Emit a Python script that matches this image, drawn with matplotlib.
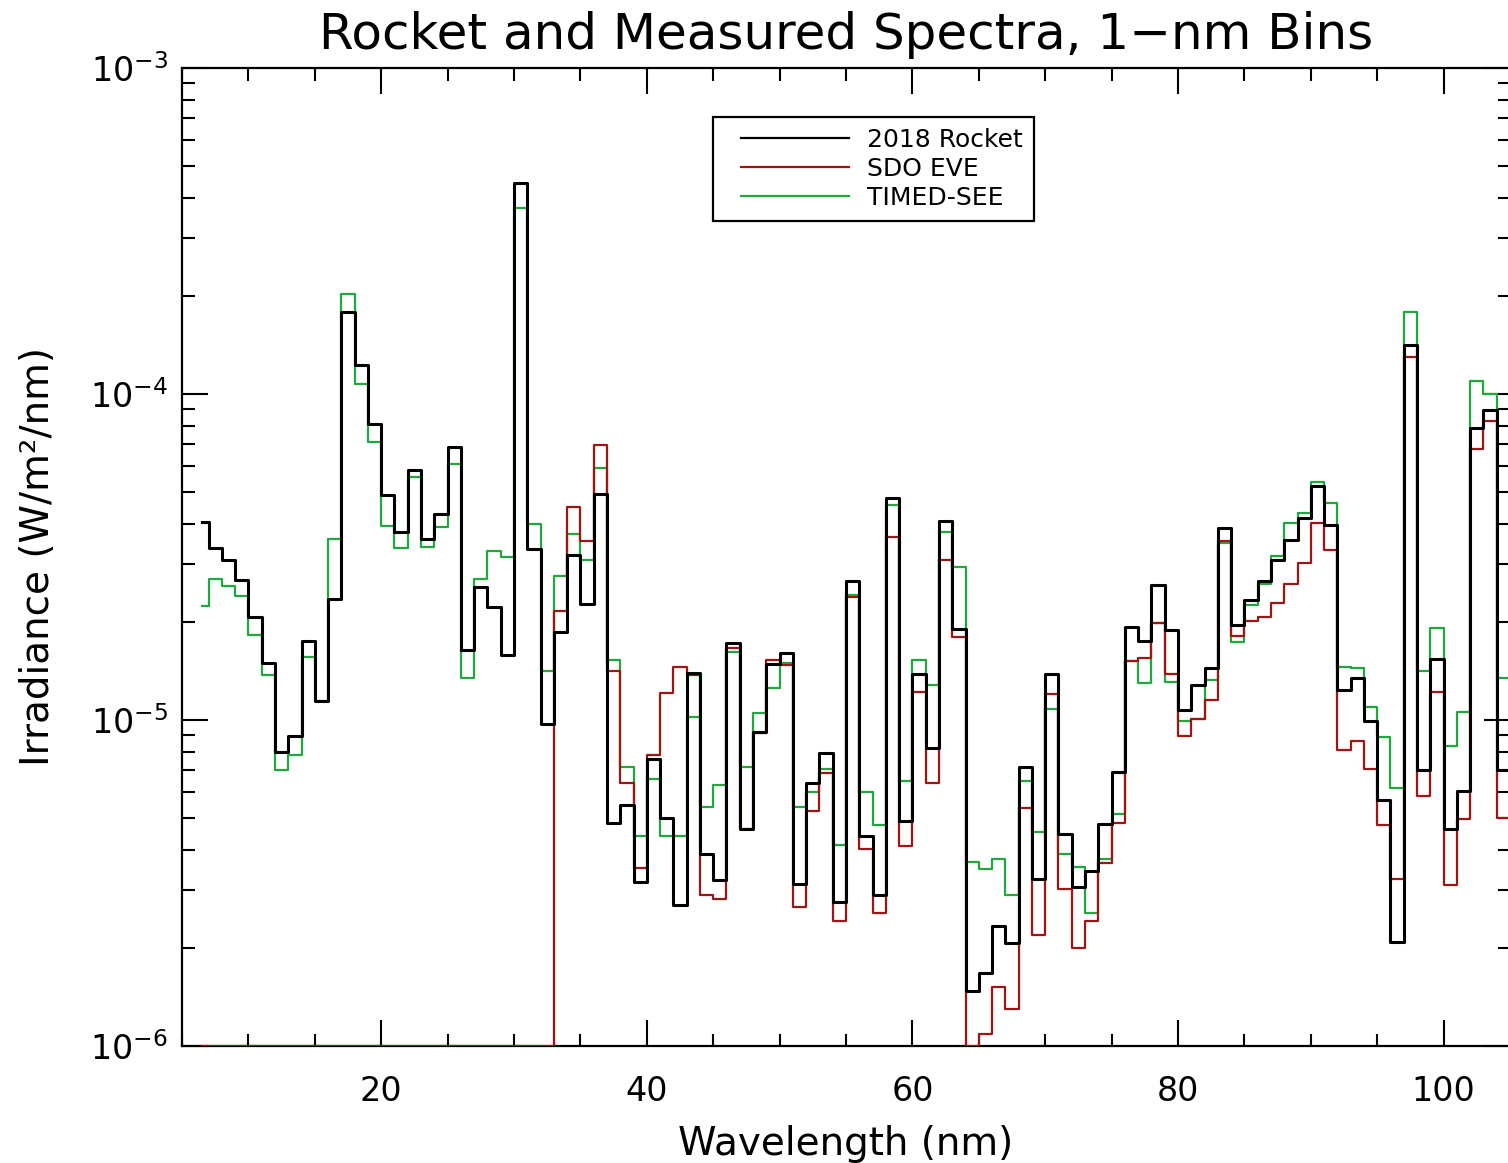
import numpy as np
import matplotlib
matplotlib.use('Agg')
import matplotlib.pyplot as plt
from matplotlib.ticker import MultipleLocator, LogLocator, NullFormatter
from matplotlib.legend_handler import HandlerLine2D
from matplotlib.lines import Line2D

# bin centres (nm), 1-nm bins
wave = np.arange(6.5, 105.6, 1.0)

rocket = [4.05e-5, 3.37e-5, 3.10e-5, 2.69e-5, 2.07e-5, 1.50e-5, 8.0e-6, 8.9e-6, 1.75e-5, 1.14e-5,
          2.35e-5, 1.79e-4, 1.23e-4, 8.1e-5, 4.9e-5, 3.77e-5, 5.85e-5, 3.6e-5, 4.28e-5, 6.9e-5,
          1.64e-5, 2.55e-5, 2.22e-5, 1.58e-5, 4.44e-4, 3.35e-5, 9.7e-6, 1.86e-5, 3.21e-5, 2.27e-5,
          4.93e-5, 4.83e-6, 5.5e-6, 3.18e-6, 7.6e-6, 5.0e-6, 2.7e-6, 1.39e-5, 3.88e-6, 3.23e-6,
          1.72e-5, 4.64e-6, 9.2e-6, 1.49e-5, 1.61e-5, 3.15e-6, 6.4e-6, 7.9e-6, 2.77e-6, 2.67e-5,
          4.42e-6, 2.91e-6, 4.81e-5, 4.9e-6, 1.38e-5, 8.2e-6, 4.07e-5, 1.9e-5, 1.47e-6, 1.67e-6,
          2.33e-6, 2.07e-6, 7.16e-6, 3.25e-6, 1.38e-5, 4.48e-6, 3.08e-6, 3.45e-6, 4.8e-6, 6.94e-6,
          1.93e-5, 1.75e-5, 2.59e-5, 1.89e-5, 1.07e-5, 1.28e-5, 1.44e-5, 3.88e-5, 1.96e-5, 2.34e-5,
          2.66e-5, 3.09e-5, 3.56e-5, 4.16e-5, 5.23e-5, 3.96e-5, 1.24e-5, 1.35e-5, 9.9e-6, 5.7e-6,
          2.09e-6, 1.41e-4, 7.0e-6, 1.54e-5, 4.63e-6, 6.07e-6, 7.84e-5, 8.9e-5, 7.0e-6, 7.0e-6]

eve = [0, 0, 0, 0, 0, 0, 0, 0, 0, 0,
       0, 0, 0, 0, 0, 0, 0, 0, 0, 0,
       0, 0, 0, 0, 0, 0, 0, 2.16e-5, 4.5e-5, 3.55e-5,
       6.98e-5, 1.41e-5, 6.4e-6, 3.52e-6, 7.8e-6, 1.21e-5, 1.45e-5, 1.37e-5, 2.9e-6, 2.82e-6,
       1.66e-5, 4.64e-6, 9.1e-6, 1.53e-5, 1.47e-5, 2.66e-6, 5.24e-6, 6.9e-6, 2.42e-6, 2.38e-5,
       4.01e-6, 2.56e-6, 3.64e-5, 4.1e-6, 1.22e-5, 6.4e-6, 3.09e-5, 1.8e-5, 0, 1.09e-6,
       1.52e-6, 1.3e-6, 5.38e-6, 2.19e-6, 1.2e-5, 3.03e-6, 2.0e-6, 2.42e-6, 3.64e-6, 4.84e-6,
       1.52e-5, 1.55e-5, 1.99e-5, 1.38e-5, 8.9e-6, 1.01e-5, 1.15e-5, 3.53e-5, 1.81e-5, 2.01e-5,
       2.07e-5, 2.28e-5, 2.62e-5, 3.03e-5, 4.03e-5, 3.32e-5, 8.1e-6, 8.6e-6, 7.05e-6, 4.78e-6,
       3.25e-6, 1.3e-4, 5.86e-6, 1.22e-5, 3.11e-6, 4.97e-6, 6.76e-5, 8.26e-5, 5.0e-6, 5.0e-6]

see = [2.23e-5, 2.7e-5, 2.58e-5, 2.4e-5, 1.82e-5, 1.37e-5, 7.0e-6, 7.8e-6, 1.56e-5, 1.14e-5,
       3.59e-5, 2.03e-4, 1.07e-4, 7.1e-5, 3.94e-5, 3.37e-5, 5.57e-5, 3.39e-5, 3.91e-5, 6.1e-5,
       1.35e-5, 2.7e-5, 3.3e-5, 3.17e-5, 3.72e-4, 4.0e-5, 1.41e-5, 2.77e-5, 3.73e-5, 3.1e-5,
       5.91e-5, 1.53e-5, 7.2e-6, 4.4e-6, 6.6e-6, 4.4e-6, 4.4e-6, 1.02e-5, 5.4e-6, 6.3e-6,
       1.62e-5, 7.2e-6, 1.05e-5, 1.25e-5, 1.5e-5, 5.4e-6, 6.0e-6, 7.05e-6, 4.13e-6, 2.42e-5,
       6.0e-6, 4.77e-6, 4.58e-5, 6.5e-6, 1.53e-5, 1.28e-5, 3.76e-5, 2.95e-5, 3.67e-6, 3.5e-6,
       3.75e-6, 2.9e-6, 6.5e-6, 4.52e-6, 1.08e-5, 3.87e-6, 3.53e-6, 2.55e-6, 3.75e-6, 5.14e-6,
       1.52e-5, 1.3e-5, 1.98e-5, 1.31e-5, 9.95e-6, 1.01e-5, 1.33e-5, 3.49e-5, 1.74e-5, 2.26e-5,
       2.62e-5, 3.18e-5, 4.02e-5, 4.32e-5, 5.38e-5, 4.64e-5, 1.45e-5, 1.44e-5, 1.1e-5, 8.85e-6,
       6.2e-6, 1.78e-4, 1.41e-5, 1.92e-5, 8.3e-6, 1.06e-5, 1.1e-4, 1.0e-4, 1.35e-5, 1.35e-5]

ymin, ymax = 1e-6, 1e-3

fig = plt.figure(figsize=(15.08, 11.63), dpi=100)
ax = fig.add_axes([182 / 1508, 117 / 1163, 1328 / 1508, 978 / 1163])

# missing EVE bins sit on the bottom of the plot, as in the original
eve_plot = np.clip(eve, ymin, None)

ax.step(wave, see, where='mid', color='#20a83c', lw=1.6, zorder=3, label='TIMED-SEE')
ax.step(wave, eve_plot, where='mid', color='#a01414', lw=1.6, zorder=4, label='SDO EVE')
ax.step(wave, rocket, where='mid', color='black', lw=2.2, zorder=5, label='2018 Rocket')

ax.set_yscale('log')
ax.set_xlim(5, 105)
ax.set_ylim(ymin, ymax)

ax.xaxis.set_major_locator(MultipleLocator(20))
ax.xaxis.set_minor_locator(MultipleLocator(5))
ax.yaxis.set_major_locator(LogLocator(base=10))
ax.yaxis.set_minor_locator(LogLocator(base=10, subs=np.arange(2, 10)))
ax.yaxis.set_minor_formatter(NullFormatter())

ax.tick_params(which='both', direction='in', top=True, right=True, width=1.5, labelsize=24)
ax.tick_params(which='major', length=19)
ax.tick_params(which='minor', length=9)
ax.tick_params(axis='x', which='major', pad=21)
ax.tick_params(axis='y', which='major', pad=10)
for sp in ax.spines.values():
    sp.set_linewidth(1.6)

ax.set_xlabel('Wavelength (nm)', fontsize=28, labelpad=12)
ax.set_ylabel('Irradiance (W/m²/nm)', fontsize=28, labelpad=24)
ax.set_title('Rocket and Measured Spectra, 1−nm Bins', fontsize=36, pad=14)

h, l = ax.get_legend_handles_labels()
leg = ax.legend(h[::-1], l[::-1], loc='upper left', bbox_to_anchor=(0.400, 0.950),
                borderaxespad=0, fontsize=18, handlelength=5.0, handletextpad=0.72,
                labelspacing=0.2, borderpad=0.45, fancybox=False, edgecolor='black',
                framealpha=1, handler_map={Line2D: HandlerLine2D(xpad=0.68)})
leg.get_frame().set_linewidth(1.6)
for line in leg.get_lines():
    line.set_linewidth(1.6)

fig.savefig('out.png', dpi=100)
